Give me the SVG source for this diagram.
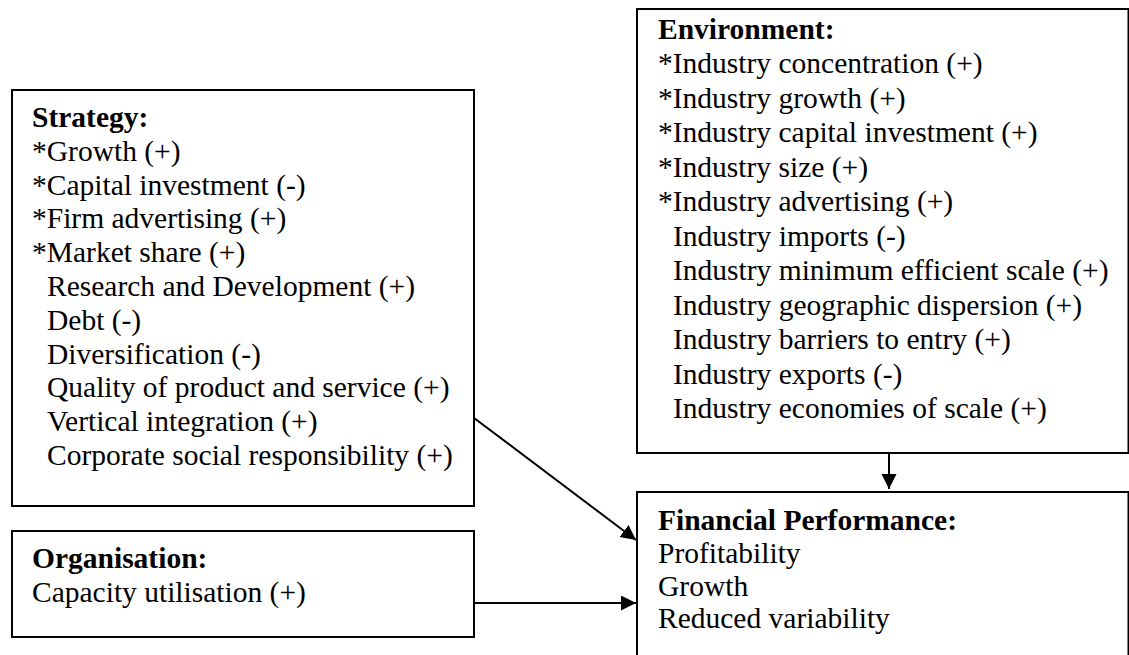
<svg xmlns="http://www.w3.org/2000/svg" width="1129" height="655" viewBox="0 0 1129 655">
<style>
.box{fill:#fff;stroke:#000;stroke-width:2}
text{font-family:"Liberation Serif","Times New Roman",serif;font-size:29.5px;fill:#000}
.t{font-weight:bold}
.conn{stroke:#000;stroke-width:2;fill:none}
</style>
<defs>
<marker id="ah" markerUnits="userSpaceOnUse" markerWidth="16" markerHeight="16" refX="15" refY="7.5" orient="auto">
<path d="M0,0 L15,7.5 L0,15 z" fill="#000"/>
</marker>
</defs>
<rect width="1129" height="655" fill="#fff"/>
<g id="environment">
<rect class="box" x="637" y="9" width="491.5" height="444"/>
<text class="t" x="658" y="39">Environment:</text>
<text x="658" y="73">*Industry concentration (+)</text>
<text x="658" y="108">*Industry growth (+)</text>
<text x="658" y="142">*Industry capital investment (+)</text>
<text x="658" y="177">*Industry size (+)</text>
<text x="658" y="211">*Industry advertising (+)</text>
<text x="673" y="246">Industry imports (-)</text>
<text x="673" y="280">Industry minimum efficient scale (+)</text>
<text x="673" y="315">Industry geographic dispersion (+)</text>
<text x="673" y="349">Industry barriers to entry (+)</text>
<text x="673" y="384">Industry exports (-)</text>
<text x="673" y="418">Industry economies of scale (+)</text>
</g>
<g id="strategy">
<rect class="box" x="12" y="90" width="462" height="416"/>
<text class="t" x="32" y="127">Strategy:</text>
<text x="32" y="161">*Growth (+)</text>
<text x="32" y="195">*Capital investment (-)</text>
<text x="32" y="228">*Firm advertising (+)</text>
<text x="32" y="262">*Market share (+)</text>
<text x="47" y="296">Research and Development (+)</text>
<text x="47" y="330">Debt (-)</text>
<text x="47" y="364">Diversification (-)</text>
<text x="47" y="397">Quality of product and service (+)</text>
<text x="47" y="431">Vertical integration (+)</text>
<text x="47" y="465">Corporate social responsibility (+)</text>
</g>
<g id="organisation">
<rect class="box" x="12" y="531" width="462" height="106"/>
<text class="t" x="32" y="568">Organisation:</text>
<text x="32" y="602">Capacity utilisation (+)</text>
</g>
<g id="financial">
<rect class="box" x="637" y="492" width="491.5" height="180"/>
<text class="t" x="658" y="530">Financial Performance:</text>
<text x="658" y="563">Profitability</text>
<text x="658" y="596">Growth</text>
<text x="658" y="628">Reduced variability</text>
</g>
<g id="connectors">
<line class="conn" x1="889" y1="453" x2="889" y2="489" marker-end="url(#ah)"/>
<line class="conn" x1="474" y1="418" x2="636" y2="540" marker-end="url(#ah)"/>
<line class="conn" x1="474" y1="603" x2="636" y2="603" marker-end="url(#ah)"/>
</g>
</svg>
